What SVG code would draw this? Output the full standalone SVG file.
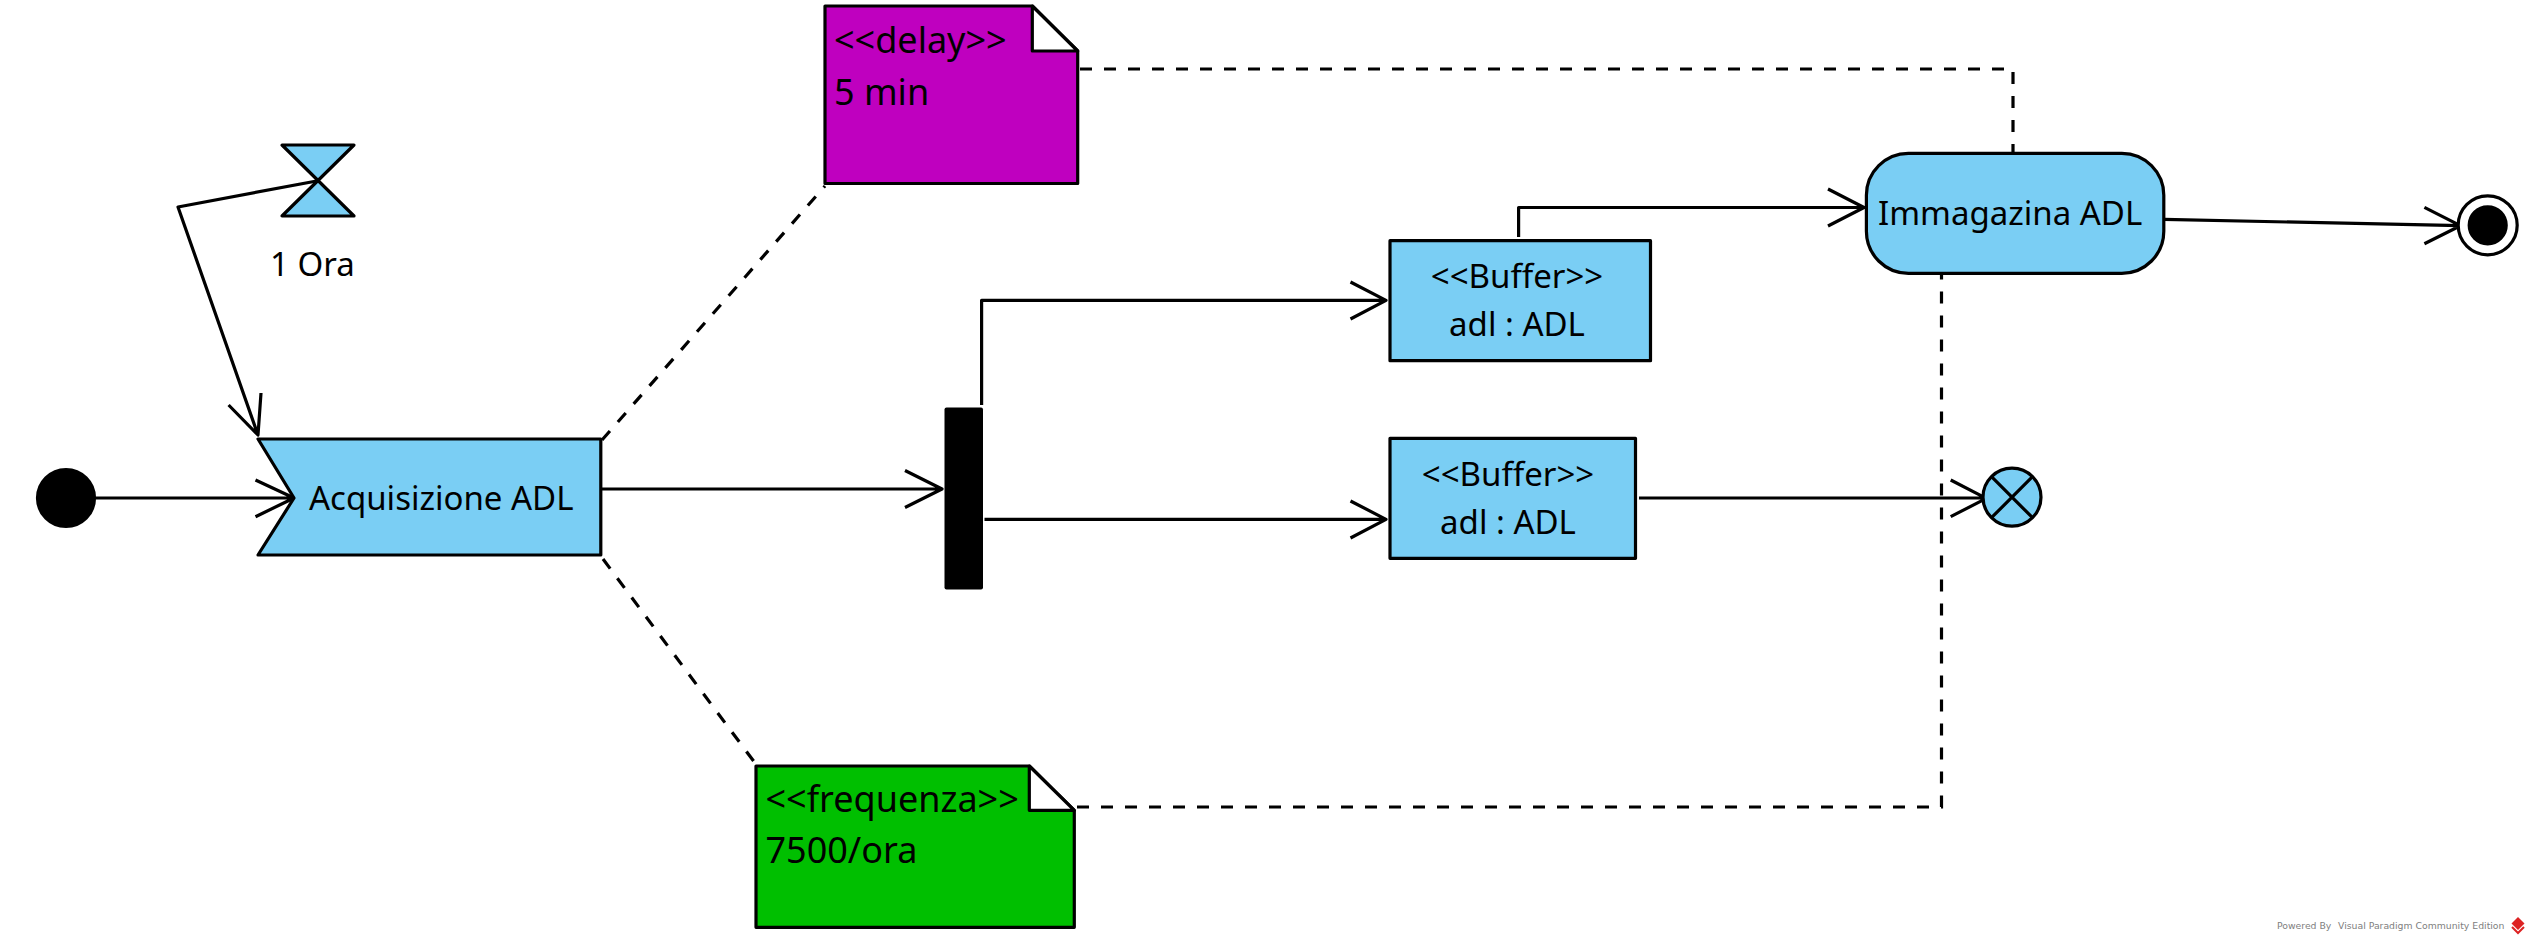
<svg xmlns="http://www.w3.org/2000/svg" width="2529" height="942" viewBox="0 0 2529 942">
<style>
.n{fill:#7ACEF4;stroke:#000;stroke-width:3.2;stroke-linejoin:round}
.k{fill:#000;stroke:#000;stroke-width:3.2}
.w{fill:#fff;stroke:#000;stroke-width:3.2;stroke-linejoin:round}
.c{fill:none;stroke:#000;stroke-width:3.2;stroke-linecap:butt;stroke-linejoin:round}
.d{fill:none;stroke:#000;stroke-width:3.2;stroke-dasharray:12 12}
text{font-family:"Noto Sans","Open Sans",sans-serif;font-size:33px;fill:#000}
.m{text-anchor:middle}
.t{font-size:36px}
.f{font-size:9.3px;fill:#808080;font-family:"DejaVu Sans","Noto Sans",sans-serif}
</style>
<rect width="2529" height="942" fill="#fff"/>
<g id="connectors">
<path class="d" d="M602 440L825 186"/>
<path class="d" d="M603 559L755 763"/>
<path class="d" d="M1080 69H2013V152"/>
<path class="d" d="M1077 807H1941.5V275"/>
<path class="c" d="M96 498H294M255.5 480L294 498L255.5 516.7"/>
<path class="c" d="M318 180.7L178 207L258 435M228.6 405L258 435L261 393"/>
<path class="c" d="M602 489H942M905 470.5L942 489L905 507.5"/>
<path class="c" d="M981.6 405V300.3H1386M1350.5 282L1386 300.3L1350.5 319"/>
<path class="c" d="M984.5 519.3H1386M1350.5 501L1386 519.3L1350.5 538"/>
<path class="c" d="M1518.6 237V207.5H1864M1828 189L1864 207.5L1828 226"/>
<path class="c" d="M1639 498H1986M1950.7 480L1986.3 498.3L1950.7 516.7"/>
<path class="c" d="M2164 219.3L2460.4 225.7M2424.4 207.3L2460.4 225.7L2424.4 243.7"/>
</g>
<g id="initial"><circle class="k" cx="66" cy="498" r="28.5"/></g>
<g id="timer"><path class="n" d="M282 145H354L282 216H354Z"/><text x="270" y="276">1 Ora</text></g>
<g id="acquisizione"><path class="n" d="M258 439H600.8V555H258L294 498Z"/><text x="309" y="510">Acquisizione ADL</text></g>
<g id="note-delay"><path class="n" style="fill:#BF00BF" d="M825 6H1032.3L1077.7 51V183.500H825Z"/><path class="w" d="M1032.3 6L1077.7 51H1032.3Z"/><text class="t" x="834" y="52.5">&lt;&lt;delay&gt;&gt;</text><text class="t" x="834" y="104.5">5 min</text></g>
<g id="note-frequenza"><path class="n" style="fill:#00BF00" d="M756 766H1029.3L1074.3 810.3V927.3H756Z"/><path class="w" d="M1029.3 766L1074.3 810.3H1029.3Z"/><text class="t" x="765.5" y="811.5">&lt;&lt;frequenza&gt;&gt;</text><text class="t" x="765.5" y="863">7500/ora</text></g>
<g id="fork"><rect x="944.5" y="407.5" width="38.5" height="182" rx="2" fill="#000"/></g>
<g id="buffer1"><rect class="n" x="1390" y="240.7" width="260.5" height="120"/><text class="m" x="1517" y="288">&lt;&lt;Buffer&gt;&gt;</text><text class="m" x="1517" y="336">adl : ADL</text></g>
<g id="buffer2"><rect class="n" x="1390" y="438.3" width="245.5" height="120"/><text class="m" x="1508" y="485.5">&lt;&lt;Buffer&gt;&gt;</text><text class="m" x="1508" y="533.5">adl : ADL</text></g>
<g id="immagazina"><rect class="n" x="1866.4" y="153.3" width="297.4" height="120" rx="42" ry="42"/><text x="1878" y="225">Immagazina ADL</text></g>
<g id="flow-final"><circle class="n" cx="2012" cy="497.2" r="29"/><path class="c" d="M1991.5 476.7L2032.5 517.7M2032.5 476.7L1991.5 517.7"/></g>
<g id="final"><circle class="w" cx="2487.7" cy="225.3" r="29.5"/><circle class="k" cx="2487.7" cy="225.3" r="18.5"/></g>
<g id="footer"><text class="f" x="2277" y="929">Powered By</text><text class="f" x="2338" y="929">Visual Paradigm Community Edition</text>
<path d="M2518 917L2524.5 923.500L2518 930L2511.500 923.500Z" fill="#d22"/><path d="M2512 927L2518 933L2524 927" fill="none" stroke="#d22" stroke-width="2"/></g>
</svg>
